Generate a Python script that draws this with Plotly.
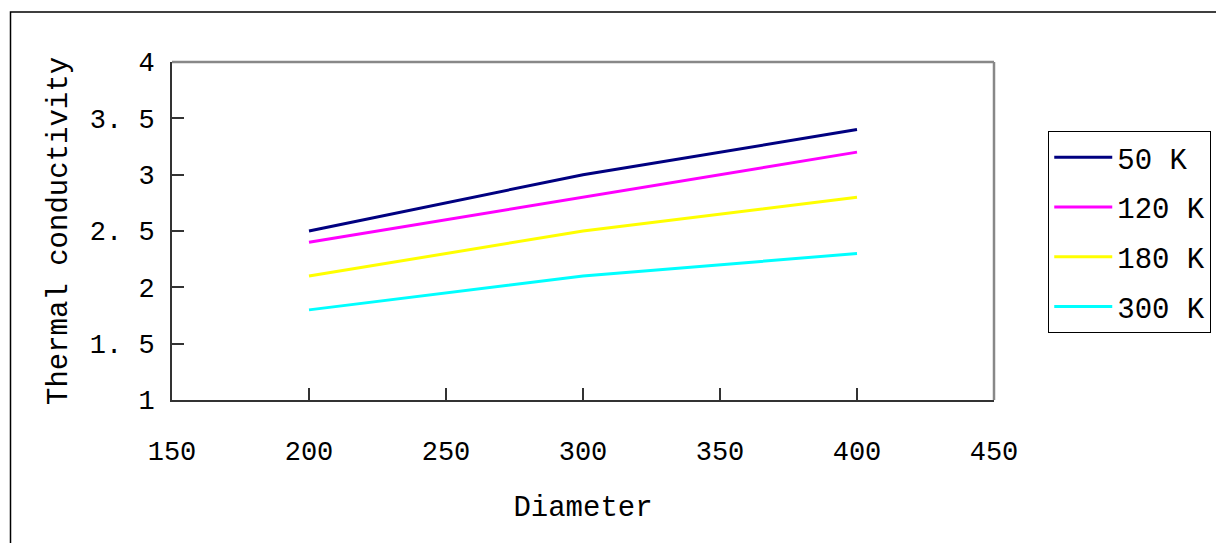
import plotly.graph_objects as go

diameter = [200, 300, 400]
k50 = [2.5, 3.0, 3.4]
k120 = [2.4, 2.8, 3.2]
k180 = [2.1, 2.5, 2.8]
k300 = [1.8, 2.1, 2.3]
series_names = ["50 K", "120 K", "180 K", "300 K"]
series_values = [k50, k120, k180, k300]
colors = ["#000080", "#FF00FF", "#FFFF00", "#00FFFF"]

x_ticks = [150, 200, 250, 300, 350, 400, 450]
y_ticks = [1, 1.5, 2, 2.5, 3, 3.5, 4]
y_ticktext = ["1", "1. 5", "2", "2. 5", "3", "3. 5", "4"]

FONT = "Liberation Mono"

fig = go.Figure()
for i, (name, vals, c) in enumerate(zip(series_names, series_values, colors)):
    fig.add_trace(go.Scatter(x=diameter, y=vals, mode="lines", name=name,
                             legendgroup=f"g{i}",
                             line=dict(color=c, width=3)))

# page body has an 8px margin: compensate so the plot area sits at 172..994 x 62..400
fig.update_layout(
    width=1216, height=535,
    margin=dict(l=164, r=230, t=54, b=143, autoexpand=False),
    paper_bgcolor="white", plot_bgcolor="white",
    font=dict(family=FONT, color="black", size=27),
    showlegend=True,
    legend=dict(x=1.066, y=0.796, xanchor="left", yanchor="top",
                bordercolor="black", borderwidth=1, bgcolor="white",
                font=dict(family=FONT, size=29), tracegroupgap=9,
                itemwidth=58),
    xaxis=dict(range=[150, 450], tickvals=x_ticks, ticks="inside", ticklen=12,
               tickcolor="#333", tickwidth=1.5, showline=True, linecolor="#333",
               linewidth=2, showgrid=False, zeroline=False, ticklabelstandoff=26,
               tickfont=dict(size=27),
               title=dict(text="Diameter", font=dict(size=29), standoff=28)),
    yaxis=dict(range=[1, 4], tickvals=y_ticks, ticktext=y_ticktext, ticks="inside",
               ticklen=12, tickcolor="#333", tickwidth=1.5, showline=True,
               linecolor="#333", linewidth=2, showgrid=False, zeroline=False,
               ticklabelstandoff=10, tickfont=dict(size=27),
               title=dict(text="Thermal conductivity", font=dict(size=29), standoff=14)),
)

# gray top and right frame lines of plot area
fig.add_shape(type="line", xref="paper", yref="paper", x0=0, x1=1, y0=1, y1=1,
              line=dict(color="#888888", width=2.5))
fig.add_shape(type="line", xref="paper", yref="paper", x0=1, x1=1, y0=0, y1=1,
              line=dict(color="#888888", width=2.5))
# outer chart border
fig.add_shape(type="rect", xref="paper", yref="paper",
              x0=(10.5 - 172) / 822, x1=(1240 - 172) / 822,
              y0=(400 - 560) / 338, y1=(400 - 12) / 338,
              line=dict(color="black", width=1.5), layer="below")

fig.write_html("out.html")
